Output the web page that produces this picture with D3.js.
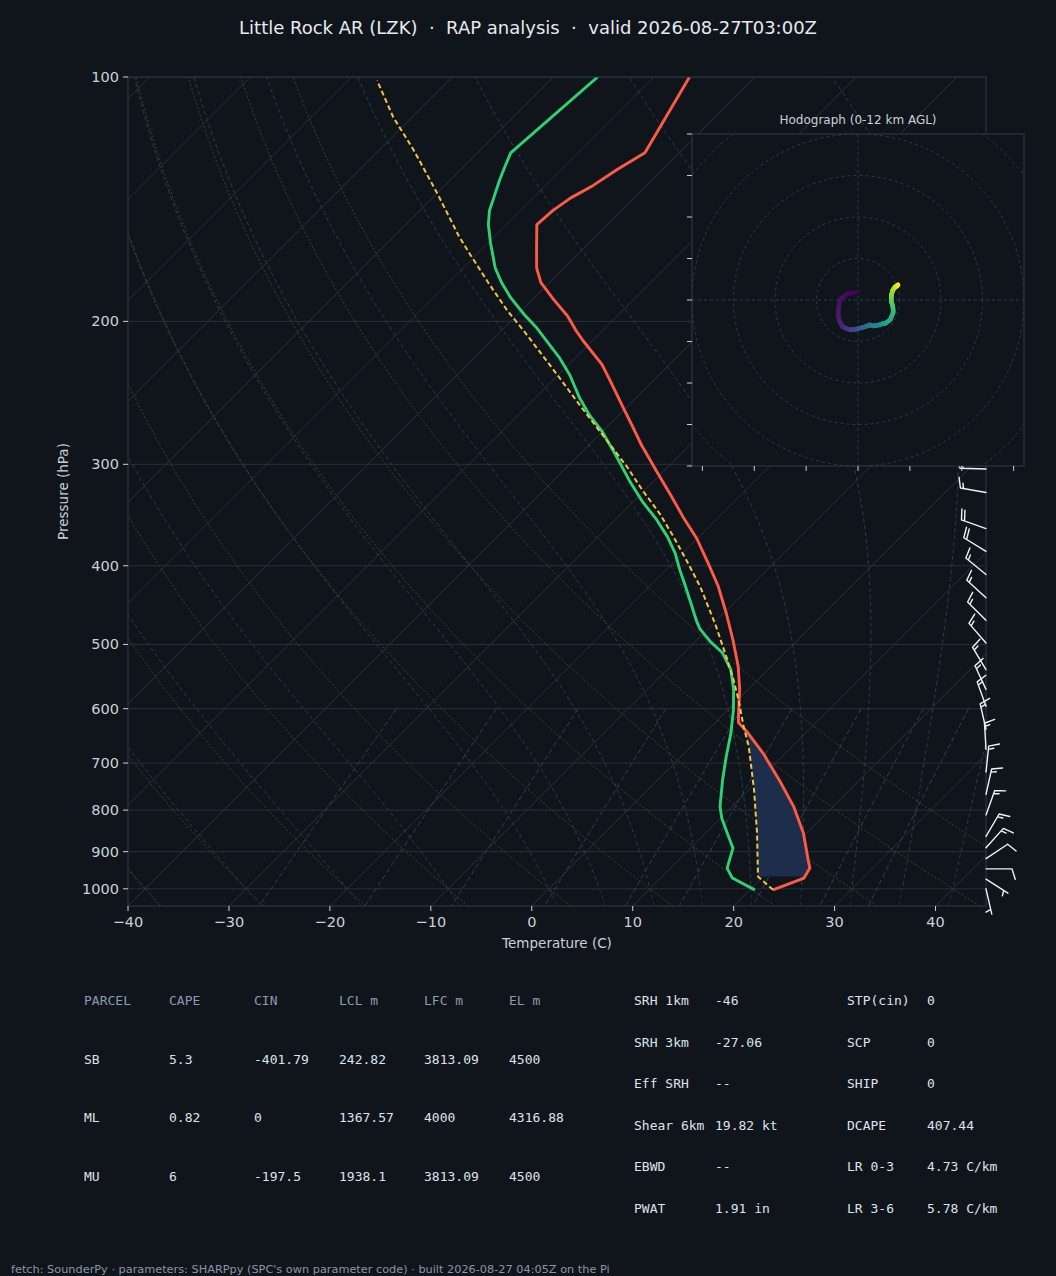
<!DOCTYPE html>
<html><head><meta charset="utf-8">
<script src="https://cdn.jsdelivr.net/npm/d3@7"></script>
<style>
html,body{margin:0;padding:0;background:#10151c;}
svg{display:block;}
text{font-family:"DejaVu Sans",sans-serif;}
.mono{font-family:"DejaVu Sans Mono",monospace;}
</style></head><body>
<svg id="chart" width="1056" height="1276"></svg>
<script>
// ---------------- data ----------------
const titleText = "Little Rock AR (LZK)  ·  RAP analysis  ·  valid 2026-08-27T03:00Z";
const footerText = "fetch: SounderPy · parameters: SHARPpy (SPC's own parameter code) · built 2026-08-27 04:05Z on the Pi";

// environmental temperature (hPa, degC)
const tempP = [1003, 970, 943, 921, 854, 792, 738, 681, 640, 624, 608, 569, 532, 494, 458, 424, 397, 370, 348, 327, 306, 284, 268, 256, 237, 226, 211, 205, 197, 188, 179, 172, 162, 152, 146, 141, 136, 130, 124, 100];
const tempC = [22.3, 24.2, 23.8, 22.8, 19.7, 16.1, 12.3, 7.8, 4.0, 2.3, 1.4, -0.8, -3.3, -6.4, -9.7, -13.2, -16.5, -20.1, -23.6, -27.0, -30.7, -34.8, -37.8, -40.2, -44.2, -46.7, -51.0, -52.7, -54.9, -57.9, -60.9, -62.7, -64.8, -67.0, -66.8, -66.3, -65.3, -64.5, -63.4, -66.5];

// dewpoint
const dewP = [1003, 970, 943, 891, 862, 818, 792, 734, 687, 643, 602, 569, 537, 512, 496, 478, 467, 449, 424, 405, 386, 368, 351, 334, 314, 292, 273, 261, 248, 233, 222, 204, 196, 187, 179, 172, 160, 152, 146, 141, 134, 129, 124, 100];
const dewC = [20.5, 17.1, 15.6, 14.2, 12.6, 10.1, 8.8, 6.4, 4.45, 2.6, 0.55, -1.4, -3.7, -6.2, -8.5, -10.85, -12.0, -13.8, -16.45, -18.6, -20.75, -23.2, -25.9, -29.0, -32.5, -36.4, -40.1, -42.9, -45.7, -48.8, -51.5, -56.7, -59.4, -62.35, -64.8, -66.8, -69.8, -71.8, -73.1, -73.9, -75.1, -75.9, -76.7, -75.6];

// surface-based parcel trace
const parcelP = [1003, 966, 854, 755, 668, 631, 585, 553, 518, 476, 462, 424, 394, 368, 345, 323, 302, 283, 267, 251, 235, 205, 194, 180, 165, 157, 139, 123, 112, 101];
const parcelC = [22.3, 19.5, 15.1, 10.5, 5.7, 3.2, 0.05, -2.4, -5.4, -9.35, -10.8, -15.0, -18.9, -22.6, -26.2, -30.2, -34.1, -38.1, -41.7, -45.5, -49.5, -57.9, -61.4, -65.8, -70.8, -73.6, -80.0, -86.6, -91.9, -97.1];

// shaded layer between parcel and environment (hPa)
const shadeBottomP = 966;
const shadeTopP = 640;

// winds (hPa, km AGL, u kt, v kt)
const windP = [1000, 973, 945, 918, 890, 862, 811, 765, 718, 673, 636, 596, 568, 537, 498, 467, 438, 410, 384, 360, 325, 304, 284, 266, 250, 234, 219, 206, 193, 180, 169, 159, 148, 139, 130, 122];
const windH = [0, 0.24, 0.49, 0.74, 0.99, 1.25, 1.75, 2.22, 2.73, 3.24, 3.69, 4.2, 4.57, 5.0, 5.57, 6.04, 6.5, 6.96, 7.41, 7.85, 8.53, 8.96, 9.4, 9.82, 10.21, 10.63, 11.04, 11.42, 11.82, 12.24, 12.62, 12.98, 13.41, 13.78, 14.18, 14.56];
const windU = [-0.8, -5.0, -8.8, -9.6, -9.0, -7.5, -5.0, -3.2, -1.5, 0.8, 3.0, 4.5, 5.6, 7.5, 10.4, 11.5, 12.5, 13.5, 15.5, 17.0, 16.8, 16.0, 16.0, 16.3, 16.8, 17.5, 18.3, 18.9, 19.3, 21, 22, 22, 21, 20, 20, 24];
const windV = [3.5, 3.2, 0.0, -6.4, -10.0, -12.8, -14.0, -14.4, -14.2, -13.6, -13.0, -12.5, -12.0, -12.5, -12.0, -11.5, -11.5, -11.0, -9.5, -6.0, -3.0, -0.5, 1.6, 3.2, 4.8, 5.8, 6.5, 7.0, 7.3, 5, 3, 1, -1, -1, 1, 3];
const hodoTopKm = 12;

// axes ticks
const pressureTicks = [100, 200, 300, 400, 500, 600, 700, 800, 900, 1000];
const tempTicks = [-40, -30, -20, -10, 0, 10, 20, 30, 40];
const hodoRings = [20, 40, 60, 80, 100, 120];
const hodoUTicks = [-75, -50, -25, 0, 25, 50, 75];
const hodoVTicks = [-80, -60, -40, -20, 0, 20, 40, 60, 80];

// reference lines
const isothermT = d3.range(-130, 50, 10);
const dryT0 = [-40, -30, -20, -10, 0, 10, 20, 30, 40, 50];
const moistT0 = [-40, -30, -20, -10, 0, 5, 10, 15, 20, 25, 30, 35, 40, 45];
const mixRatios = [0.0004, 0.001, 0.002, 0.004, 0.007, 0.01, 0.016, 0.024, 0.032];

// tables
const parcelHeader = ["PARCEL", "CAPE", "CIN", "LCL m", "LFC m", "EL m"];
const parcelRows = [
  ["SB", "5.3", "-401.79", "242.82", "3813.09", "4500"],
  ["ML", "0.82", "0", "1367.57", "4000", "4316.88"],
  ["MU", "6", "-197.5", "1938.1", "3813.09", "4500"]
];
const indexLeft = [["SRH 1km", "-46"], ["SRH 3km", "-27.06"], ["Eff SRH", "--"], ["Shear 6km", "19.82 kt"], ["EBWD", "--"], ["PWAT", "1.91 in"]];
const indexRight = [["STP(cin)", "0"], ["SCP", "0"], ["SHIP", "0"], ["DCAPE", "407.44"], ["LR 0-3", "4.73 C/km"], ["LR 3-6", "5.78 C/km"]];

// ---------------- drawing ----------------
const BG = "#10151c";
const svg = d3.select("#chart");
svg.append("rect").attr("width", 1056).attr("height", 1276).attr("fill", BG);

const plot = {left: 128, right: 986, top: 77, bottom: 906};
const x = d3.scaleLinear().domain([-40, 45]).range([plot.left, plot.right]);
const y = d3.scaleLog().domain([1050, 100]).range([plot.bottom, plot.top]);
const SKEW = 1.0;
const sx = (T, p) => x(T) + (plot.bottom - y(p)) * SKEW;
const line = d3.line().x(d => sx(d[1], d[0])).y(d => y(d[0]));

svg.append("clipPath").attr("id", "plotclip").append("rect")
  .attr("x", plot.left).attr("y", plot.top)
  .attr("width", plot.right - plot.left).attr("height", plot.bottom - plot.top);
const g = svg.append("g").attr("clip-path", "url(#plotclip)");

const pSamples = d3.range(91).map(i => 1050 * Math.pow(100 / 1050, i / 90));

// isobars
g.selectAll(".isobar").data(pressureTicks).join("line")
  .attr("x1", plot.left).attr("x2", plot.right)
  .attr("y1", d => y(d)).attr("y2", d => y(d))
  .attr("stroke", "#27303b").attr("stroke-width", 1);
// isotherms
g.selectAll(".isotherm").data(isothermT).join("path")
  .attr("d", T => line([[1050, T], [100, T]]))
  .attr("stroke", "#2a323d").attr("stroke-width", 1).attr("fill", "none");

// dry adiabats
const kappa = 287.04749 / 1004.6662;
g.selectAll(".dry").data(dryT0).join("path")
  .attr("d", t0 => line(pSamples.map(p => [p, (t0 + 273.15) * Math.pow(p / 1000, kappa) - 273.15])))
  .attr("stroke", "#4a3d2c").attr("stroke-width", 1).attr("fill", "none")
  .attr("stroke-dasharray", "2,2");

// moist adiabats
const Rd = 287.04749, Cp = 1004.6662, Lv = 2.50084e6, eps = 0.6219569;
const es = Tk => { const t = Tk - 273.15; return 6.112 * Math.exp(17.67 * t / (t + 243.5)); };
const dTdp = (p, T) => { const e = es(T); const rs = eps * e / (p - e);
  return (1 / p) * (Rd * T + Lv * rs) / (Cp + (Lv * Lv * rs * eps) / (Rd * T * T)); };
function moistLine(t0) {
  const T0 = t0 + 273.15;
  const integrate = (pEnd) => {
    const out = []; let p = 1000, T = T0; const n = 400; const h = (pEnd - 1000) / n;
    out.push([p, T]);
    for (let i = 0; i < n; i++) {
      const k1 = dTdp(p, T), k2 = dTdp(p + h / 2, T + h / 2 * k1), k3 = dTdp(p + h / 2, T + h / 2 * k2), k4 = dTdp(p + h, T + h * k3);
      T += h / 6 * (k1 + 2 * k2 + 2 * k3 + k4); p += h;
      if (i % 5 === 4) out.push([p, T]);
    }
    return out;
  };
  const up = integrate(100), down = integrate(1050);
  return down.reverse().concat(up.slice(1)).map(d => [d[0], d[1] - 273.15]);
}
g.selectAll(".moist").data(moistT0).join("path")
  .attr("d", t0 => line(moistLine(t0)))
  .attr("stroke", "#25404a").attr("stroke-width", 1).attr("fill", "none")
  .attr("stroke-dasharray", "4,3");

// mixing ratio lines
const mixP = d3.range(31).map(i => 600 + i * 15);
g.selectAll(".mix").data(mixRatios).join("path")
  .attr("d", w => line(mixP.map(p => { const e = p * w / (eps + w); const l = Math.log(e / 6.112);
    return [p, 243.5 * l / (17.67 - l)]; })))
  .attr("stroke", "#2b4356").attr("stroke-width", 1).attr("fill", "none")
  .attr("stroke-dasharray", "5,3");

// shaded layer
function interpAt(P, V, p) {
  for (let i = 0; i < P.length - 1; i++) {
    const a = P[i], b = P[i + 1];
    if ((p <= a && p >= b)) { const f = (Math.log(p) - Math.log(a)) / (Math.log(b) - Math.log(a)); return V[i] + f * (V[i + 1] - V[i]); }
  }
  return V[V.length - 1];
}
const leftEdge = [[shadeBottomP, interpAt(parcelP, parcelC, shadeBottomP)]]
  .concat(parcelP.map((p, i) => [p, parcelC[i]]).filter(d => d[0] < shadeBottomP && d[0] > shadeTopP))
  .concat([[shadeTopP, interpAt(parcelP, parcelC, shadeTopP)]]);
const rightEdge = [[shadeTopP, interpAt(tempP, tempC, shadeTopP)]]
  .concat(tempP.map((p, i) => [p, tempC[i]]).filter(d => d[0] > shadeTopP && d[0] < shadeBottomP).reverse())
  .concat([[shadeBottomP, interpAt(tempP, tempC, shadeBottomP)]]);
g.append("path").attr("d", line(leftEdge.concat(rightEdge)) + "Z")
  .attr("fill", "#1c2e4b").attr("stroke", "none");

// profiles
g.append("path").attr("d", line(tempP.map((p, i) => [p, tempC[i]])))
  .attr("fill", "none").attr("stroke", "#ff5a47").attr("stroke-width", 2.9).attr("stroke-linejoin", "round");
g.append("path").attr("d", line(dewP.map((p, i) => [p, dewC[i]])))
  .attr("fill", "none").attr("stroke", "#2fd173").attr("stroke-width", 2.9).attr("stroke-linejoin", "round");
g.append("path").attr("d", line(parcelP.map((p, i) => [p, parcelC[i]])))
  .attr("fill", "none").attr("stroke", "#f4c542").attr("stroke-width", 2).attr("stroke-dasharray", "5,3");

// spines
svg.append("rect").attr("x", plot.left).attr("y", plot.top)
  .attr("width", plot.right - plot.left).attr("height", plot.bottom - plot.top)
  .attr("fill", "none").attr("stroke", "#2f3a48").attr("stroke-width", 1);

// axes ticks
const tickColor = "#c9d1d9";
const yTicks = svg.append("g");
yTicks.selectAll("line").data(pressureTicks).join("line")
  .attr("x1", plot.left - 5).attr("x2", plot.left).attr("y1", d => y(d)).attr("y2", d => y(d))
  .attr("stroke", tickColor).attr("stroke-width", 1);
yTicks.selectAll("text").data(pressureTicks).join("text")
  .attr("x", plot.left - 9).attr("y", d => y(d)).attr("text-anchor", "end").attr("dominant-baseline", "central")
  .attr("fill", tickColor).attr("font-size", 14.5).text(d => d);
const xTicks = svg.append("g");
xTicks.selectAll("line").data(tempTicks).join("line")
  .attr("x1", d => x(d)).attr("x2", d => x(d)).attr("y1", plot.bottom).attr("y2", plot.bottom + 5)
  .attr("stroke", tickColor).attr("stroke-width", 1);
xTicks.selectAll("text").data(tempTicks).join("text")
  .attr("x", d => x(d)).attr("y", plot.bottom + 16).attr("text-anchor", "middle").attr("dominant-baseline", "central")
  .attr("fill", tickColor).attr("font-size", 14.5).text(d => d3.format("d")(d));
svg.append("text").attr("x", (plot.left + plot.right) / 2).attr("y", 943).attr("text-anchor", "middle")
  .attr("dominant-baseline", "central").attr("fill", tickColor).attr("font-size", 13.5).text("Temperature (C)");
svg.append("text").attr("transform", `translate(63,${(plot.top + plot.bottom) / 2}) rotate(-90)`)
  .attr("text-anchor", "middle").attr("dominant-baseline", "central").attr("fill", tickColor)
  .attr("font-size", 13.5).text("Pressure (hPa)");

// wind barbs
function barbPath(x0, y0, u, v) {
  const L = 26, Hh = 0.4 * L, Ww = 0.25 * L, S = 0.125 * L;
  const spd = Math.hypot(u, v);
  const mag = Math.round(spd / 5) * 5;
  if (mag < 5) {
    const r = 0.15 * L;
    return `M${x0 - r},${y0}a${r},${r} 0 1,0 ${2 * r},0a${r},${r} 0 1,0 ${-2 * r},0`;
  }
  const ux = -u / spd, uy = v / spd;
  const px = -uy, py = ux;
  const pt = (o, h) => [x0 + ux * o + px * h, y0 + uy * o + py * h];
  let d = `M${x0},${y0}L${pt(L, 0)}`;
  let nFlags = Math.floor(mag / 50); let rem = mag - 50 * nFlags;
  let nBarbs = Math.floor(rem / 10); let half = (rem - 10 * nBarbs) >= 5;
  let off = L;
  for (let i = 0; i < nFlags; i++) {
    d += `M${pt(off, 0)}L${pt(off - Ww / 2, Hh)}L${pt(off - Ww, 0)}Z`;
    off -= Ww + S;
  }
  for (let i = 0; i < nBarbs; i++) {
    d += `M${pt(off, 0)}L${pt(off + Ww / 2, Hh)}`;
    off -= S;
  }
  if (half) {
    if (off === L) off -= 1.5 * S;
    d += `M${pt(off, 0)}L${pt(off + Ww / 4, Hh / 2)}`;
  }
  return d;
}
svg.append("g").selectAll("path").data(windP.map((p, i) => i)).join("path")
  .attr("d", i => barbPath(plot.right, y(windP[i]), windU[i], windV[i]))
  .attr("fill", "none").attr("stroke", "#eef1f4").attr("stroke-width", 1.4)
  .attr("stroke-linejoin", "round").attr("stroke-linecap", "round");

// hodograph
const hb = {left: 692, top: 134, size: 332};
const hu = d3.scaleLinear().domain([-80, 80]).range([hb.left, hb.left + hb.size]);
const hv = d3.scaleLinear().domain([-80, 80]).range([hb.top + hb.size, hb.top]);
const hg = svg.append("g");
hg.append("rect").attr("x", hb.left).attr("y", hb.top).attr("width", hb.size).attr("height", hb.size).attr("fill", BG);
svg.append("clipPath").attr("id", "hodoclip").append("rect")
  .attr("x", hb.left).attr("y", hb.top).attr("width", hb.size).attr("height", hb.size);
const hgc = hg.append("g").attr("clip-path", "url(#hodoclip)");
hgc.selectAll("circle").data(hodoRings).join("circle")
  .attr("cx", hu(0)).attr("cy", hv(0)).attr("r", d => hu(d) - hu(0))
  .attr("fill", "none").attr("stroke", "#2f3b4a").attr("stroke-width", 1).attr("stroke-dasharray", "3,3");
hgc.append("line").attr("x1", hb.left).attr("x2", hb.left + hb.size).attr("y1", hv(0)).attr("y2", hv(0))
  .attr("stroke", "#2f3b4a").attr("stroke-dasharray", "3,3");
hgc.append("line").attr("y1", hb.top).attr("y2", hb.top + hb.size).attr("x1", hu(0)).attr("x2", hu(0))
  .attr("stroke", "#2f3b4a").attr("stroke-dasharray", "3,3");
const hodoIdx = windH.map((h, i) => i).filter(i => windH[i] <= hodoTopKm);
const segs = [];
for (let k = 0; k < hodoIdx.length - 1; k++) {
  const a = hodoIdx[k], b = hodoIdx[k + 1];
  const n = 6;
  for (let j = 0; j < n; j++) {
    const f0 = j / n, f1 = (j + 1) / n;
    segs.push({
      x1: hu(windU[a] + (windU[b] - windU[a]) * f0), y1: hv(windV[a] + (windV[b] - windV[a]) * f0),
      x2: hu(windU[a] + (windU[b] - windU[a]) * f1), y2: hv(windV[a] + (windV[b] - windV[a]) * f1),
      h: windH[a] + (windH[b] - windH[a]) * (f0 + f1) / 2
    });
  }
}
hgc.selectAll(".hseg").data(segs).join("line")
  .attr("x1", d => d.x1).attr("y1", d => d.y1).attr("x2", d => d.x2).attr("y2", d => d.y2)
  .attr("stroke", d => d3.interpolateViridis(d.h / hodoTopKm)).attr("stroke-width", 4.5).attr("stroke-linecap", "round");
hg.append("rect").attr("x", hb.left).attr("y", hb.top).attr("width", hb.size).attr("height", hb.size)
  .attr("fill", "none").attr("stroke", "#2f3b4a").attr("stroke-width", 1);
hg.selectAll(".hvt").data(hodoVTicks).join("line")
  .attr("x1", hb.left - 5).attr("x2", hb.left).attr("y1", d => hv(d)).attr("y2", d => hv(d))
  .attr("stroke", tickColor).attr("stroke-width", 1);
hg.selectAll(".hut").data(hodoUTicks).join("line")
  .attr("y1", hb.top + hb.size).attr("y2", hb.top + hb.size + 5).attr("x1", d => hu(d)).attr("x2", d => hu(d))
  .attr("stroke", tickColor).attr("stroke-width", 1);
hg.append("text").attr("x", hu(0)).attr("y", hb.top - 14).attr("text-anchor", "middle").attr("dominant-baseline", "central")
  .attr("fill", tickColor).attr("font-size", 12).text("Hodograph (0-12 km AGL)");

// title
svg.append("text").attr("x", 528).attr("y", 27).attr("text-anchor", "middle").attr("dominant-baseline", "central")
  .attr("fill", "#e6eaef").attr("font-size", 18).style("white-space", "pre").text(titleText);

// parcel table
const colX = [84, 169, 254, 339, 424, 509];
const rowY = [1000, 1059, 1117, 1176];
const tbl = svg.append("g").attr("class", "mono");
tbl.selectAll(".hdr").data(parcelHeader).join("text")
  .attr("class", "mono").attr("x", (d, i) => colX[i]).attr("y", rowY[0]).attr("dominant-baseline", "central")
  .attr("fill", "#8b9bb0").attr("font-size", 13).style("white-space", "pre").text(d => d);
parcelRows.forEach((row, r) => {
  tbl.selectAll(".r" + r).data(row).join("text")
    .attr("class", "mono").attr("x", (d, i) => colX[i]).attr("y", rowY[r + 1]).attr("dominant-baseline", "central")
    .attr("fill", "#dde3ea").attr("font-size", 13).text(d => d);
});
// index table
const idxY = [1000, 1042, 1083, 1125, 1166, 1208];
const idxCols = [[indexLeft, 634, 715], [indexRight, 847, 927]];
idxCols.forEach(([rows, lx, vx]) => {
  rows.forEach((r, i) => {
    tbl.append("text").attr("class", "mono").attr("x", lx).attr("y", idxY[i]).attr("dominant-baseline", "central")
      .attr("fill", "#dde3ea").attr("font-size", 13).style("white-space", "pre").text(r[0]);
    tbl.append("text").attr("class", "mono").attr("x", vx).attr("y", idxY[i]).attr("dominant-baseline", "central")
      .attr("fill", "#dde3ea").attr("font-size", 13).style("white-space", "pre").text(r[1]);
  });
});

// footer
svg.append("text").attr("x", 11).attr("y", 1269).attr("dominant-baseline", "central")
  .attr("fill", "#8a96a6").attr("font-size", 11.3).text(footerText);
</script>
</body></html>
